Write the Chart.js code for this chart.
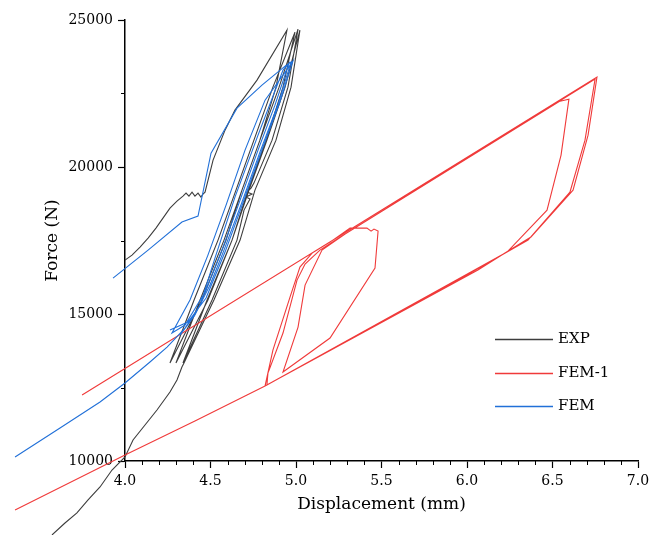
<!DOCTYPE html>
<html>
<head>
<meta charset="utf-8">
<script src="https://cdn.jsdelivr.net/npm/chart.js@4.4.0/dist/chart.umd.min.js"></script>
<style>
  html, body { margin: 0; padding: 0; background: #fff; }
  #wrap { width: 665px; height: 535px; }
</style>
</head>
<body>
<div id="wrap"><canvas id="canvas1" width="665" height="535"></canvas></div>
<script>
// series names and colours
var seriesNames = ["EXP", "FEM-1", "FEM"];
var seriesColors = ["#3d3d3d", "#f03a3a", "#2170d8"];

// axes
var xRange = [4.0, 7.0];
var yRange = [10000, 25000];
var xStep = 0.5;
var yStep = 5000;

// EXP: first loading (noisy), four loops, then the lower tail
var expX = [4.000, 4.041, 4.088, 4.135, 4.181, 4.222, 4.263, 4.304, 4.339, 4.357, 4.374, 4.392, 4.409, 4.427, 4.444, 4.456, 4.468, 4.515, 4.585, 4.643, 4.772, 4.947,
            4.883, 4.789, 4.684, 4.591, 4.450, 4.263,
            4.404, 4.544, 4.649, 4.754, 4.865, 4.994,
            4.924, 4.825, 4.719, 4.626, 4.485, 4.298,
            4.439, 4.579, 4.684, 4.789, 4.901, 5.012,
            4.953, 4.860, 4.754, 4.737, 4.713, 4.743, 4.708, 4.731, 4.696, 4.655, 4.509, 4.339,
            4.480, 4.626, 4.725, 4.830, 4.936, 5.023,
            4.971, 4.883, 4.760, 4.673, 4.520, 4.345, 4.333,
            4.304, 4.263, 4.187, 4.117, 4.047, 4.000, 3.924, 3.854, 3.784, 3.719, 3.649, 3.573];
var expY = [16834, 17004, 17276, 17582, 17922, 18262, 18602, 18840, 19010, 19112, 19010, 19146, 19010, 19112, 18976, 19078, 19146, 20234, 21254, 21934, 22954, 24654,
            22716, 20914, 19214, 17514, 15474, 13332,
            15474, 17514, 19214, 20914, 22716, 24586,
            22716, 20914, 19214, 17514, 15474, 13332,
            15474, 17514, 19214, 20914, 22716, 24688,
            22716, 20914, 19452, 19282, 19146, 19078, 18976, 18908, 18534, 17514, 15474, 13332,
            15474, 17514, 19214, 20914, 22716, 24654,
            22716, 20914, 19214, 17514, 15474, 13332, 13196,
            12754, 12346, 11734, 11224, 10714, 10136, 9694, 9116, 8674, 8232, 7892, 7484];

// FEM-1: straight loading line, three loops, unloading tail
var fem1X = [3.749, 6.760,
             6.708, 6.620, 6.374, 6.222, 6.064, 4.819,
             4.865, 4.965, 5.023, 5.094, 5.199, 5.316, 5.415, 5.439, 5.456, 5.480, 5.462, 5.199, 4.924,
             5.012, 5.053, 5.152, 5.287, 6.544, 6.596,
             6.550, 6.468, 6.234, 4.830,
             4.836, 4.924, 5.006, 5.053, 5.140, 5.257, 6.749,
             6.690, 6.602, 6.357, 6.193, 6.018, 4.819,
             4.409, 4.000, 3.357];
var fem1Y = [12244, 23056,
             21084, 19214, 17616, 17072, 16494, 12550,
             13774, 15576, 16596, 17072, 17446, 17922, 17922, 17820, 17888, 17820, 16562, 14182, 13026,
             14556, 15984, 17174, 17718, 22240, 22308,
             20404, 18534, 17106, 12584,
             12992, 14352, 16154, 16698, 17174, 17616, 22988,
             20914, 19146, 17514, 16970, 16392, 12550,
             11360, 10204, 8334];

// FEM: lower curve with two loops, then the upper first-loading curve (null = break)
var femX = [3.357, 3.620, 3.854, 4.000, 4.146, 4.246, 4.351, 4.439, 4.526, 4.643, 4.778, 4.924, 4.959,
            4.877, 4.778, 4.673, 4.567, 4.468, 4.351, 4.275,
            4.380, 4.485, 4.591, 4.702, 4.819, 4.982,
            4.906, 4.801, 4.696, 4.585, 4.474, 4.368, 4.263,
            null,
            3.930, 4.135, 4.333, 4.427, 4.503, 4.655, 4.801, 4.936, 4.971,
            4.895, 4.789, 4.684, 4.579, 4.497, 4.409, 4.322];
var femY = [10136, 11122, 12006, 12652, 13366, 13876, 14522, 15304, 16902, 18976, 21084, 23294, 23532,
            22104, 20574, 18874, 17174, 15746, 14624, 14352,
            15474, 17004, 18704, 20574, 22274, 23600,
            22206, 20574, 18874, 17106, 15542, 14726, 14454,
            null,
            16222, 17174, 18126, 18330, 20472, 22002, 22784, 23430, 23566,
            22138, 20506, 18806, 17174, 15984, 14964, 14284];

function toPoints(xs, ys) {
  var pts = [];
  for (var i = 0; i < xs.length; i++) {
    pts.push({x: xs[i], y: ys[i]});
  }
  return pts;
}

var fontFamily = "'DejaVu Serif', 'Liberation Serif', serif";
Chart.defaults.font.family = fontFamily;
Chart.defaults.color = "#000";

// minor ticks on both axes
var minorTicks = {
  id: 'minorTicks',
  afterDraw: function(chart) {
    var ctx = chart.ctx, xs = chart.scales.x, ys = chart.scales.y;
    ctx.save();
    ctx.strokeStyle = "#000";
    ctx.lineWidth = 1;
    for (var v = 41; v < 70; v++) {
      if (v % 5 === 0) continue;
      var px = Math.round(xs.getPixelForValue(v / 10)) + 0.5;
      ctx.beginPath();
      ctx.moveTo(px, ys.bottom);
      ctx.lineTo(px, ys.bottom + 4);
      ctx.stroke();
    }
    for (var w = yRange[0] + yStep / 2; w < yRange[1]; w += yStep) {
      var py = Math.round(ys.getPixelForValue(w)) + 0.5;
      ctx.beginPath();
      ctx.moveTo(xs.left, py);
      ctx.lineTo(xs.left - 4, py);
      ctx.stroke();
    }
    ctx.restore();
  }
};

// legend drawn inside the plot
var legendBox = {
  id: 'legendBox',
  afterDraw: function(chart) {
    var ctx = chart.ctx, a = chart.chartArea;
    ctx.save();
    ctx.font = "15px " + fontFamily;
    ctx.textBaseline = "middle";
    ctx.textAlign = "left";
    for (var i = 0; i < seriesNames.length; i++) {
      var y = Math.round(a.top + 319 + i * 33.5) + 0.5;
      ctx.strokeStyle = seriesColors[i];
      ctx.lineWidth = 1.5;
      ctx.beginPath();
      ctx.moveTo(a.left + 370, y);
      ctx.lineTo(a.left + 428, y);
      ctx.stroke();
      ctx.fillStyle = "#000";
      ctx.fillText(seriesNames[i], a.left + 433, y);
    }
    ctx.restore();
  }
};

var series = [toPoints(expX, expY), toPoints(fem1X, fem1Y), toPoints(femX, femY)];
var drawOrder = [2, 1, 0];

new Chart(document.getElementById("canvas1"), {
  type: 'scatter',
  data: {
    datasets: series.map(function(pts, i) {
      return {
        label: seriesNames[i],
        data: pts,
        showLine: true,
        borderColor: seriesColors[i],
        backgroundColor: seriesColors[i],
        borderWidth: 1.1,
        pointRadius: 0,
        tension: 0,
        clip: false,
        spanGaps: false,
        order: drawOrder[i]
      };
    })
  },
  options: {
    responsive: false,
    animation: false,
    devicePixelRatio: 1,
    layout: { padding: { top: 20, right: 27, bottom: 0, left: 0 } },
    plugins: { legend: { display: false }, tooltip: { enabled: false } },
    scales: {
      x: {
        type: 'linear',
        min: xRange[0],
        max: xRange[1],
        ticks: {
          stepSize: xStep,
          autoSkip: false,
          maxRotation: 0,
          padding: 5,
          font: { size: 14 },
          color: "#000",
          callback: function(v) { return v.toFixed(1); }
        },
        grid: { drawOnChartArea: false, tickLength: 7, color: "#000", tickWidth: 1.2 },
        border: { color: "#000", width: 1.5 },
        title: { display: true, text: 'Displacement (mm)', font: { size: 17 }, color: "#000", padding: { top: 0, bottom: 20 } },
        afterFit: function(s) { s.height = 74; }
      },
      y: {
        type: 'linear',
        min: yRange[0],
        max: yRange[1],
        ticks: {
          stepSize: yStep,
          padding: 5,
          font: { size: 14 },
          color: "#000",
          callback: function(v) { return String(v); }
        },
        grid: { drawOnChartArea: false, tickLength: 7, color: "#000", tickWidth: 1.2 },
        border: { color: "#000", width: 1.5 },
        title: { display: true, text: 'Force (N)', font: { size: 17 }, color: "#000", padding: { top: 42, bottom: 0 } },
        afterFit: function(s) { s.width = 125; }
      }
    }
  },
  plugins: [minorTicks, legendBox]
});
</script>
</body>
</html>
